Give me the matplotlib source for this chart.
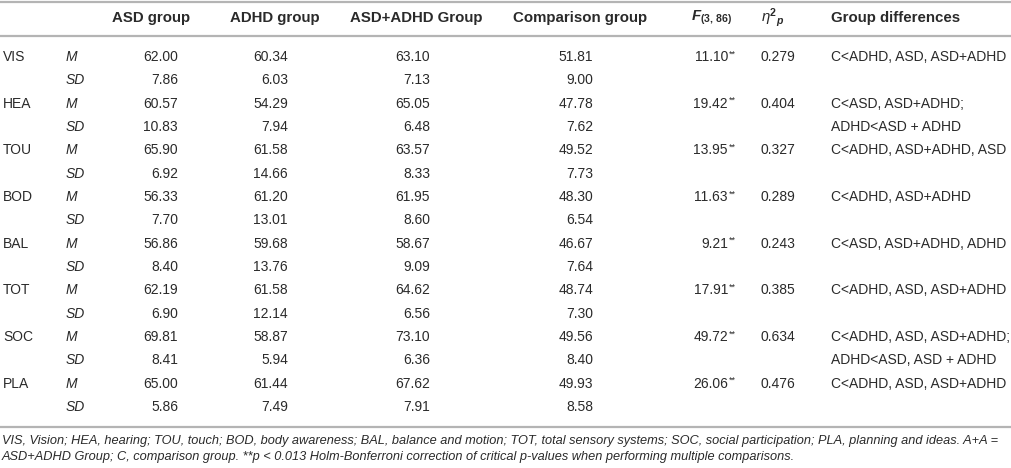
import matplotlib
matplotlib.use('Agg')
import matplotlib.pyplot as plt

plt.rcParams['font.family'] = ['Liberation Sans', 'DejaVu Sans']
plt.rcParams['mathtext.fontset'] = 'custom'
plt.rcParams['mathtext.rm'] = 'Liberation Sans'
plt.rcParams['mathtext.it'] = 'Liberation Sans:italic'
plt.rcParams['mathtext.bf'] = 'Liberation Sans:bold'
plt.rcParams['mathtext.bfit'] = 'Liberation Sans:bold:italic'

# Table data
scales = ['VIS', 'HEA', 'TOU', 'BOD', 'BAL', 'TOT', 'SOC', 'PLA']
asd_m = [62.00, 60.57, 65.90, 56.33, 56.86, 62.19, 69.81, 65.00]
asd_sd = [7.86, 10.83, 6.92, 7.70, 8.40, 6.90, 8.41, 5.86]
adhd_m = [60.34, 54.29, 61.58, 61.20, 59.68, 61.58, 58.87, 61.44]
adhd_sd = [6.03, 7.94, 14.66, 13.01, 13.76, 12.14, 5.94, 7.49]
both_m = [63.10, 65.05, 63.57, 61.95, 58.67, 64.62, 73.10, 67.62]
both_sd = [7.13, 6.48, 8.33, 8.60, 9.09, 6.56, 6.36, 7.91]
comp_m = [51.81, 47.78, 49.52, 48.30, 46.67, 48.74, 49.56, 49.93]
comp_sd = [9.00, 7.62, 7.73, 6.54, 7.64, 7.30, 8.40, 8.58]
f_vals = [11.10, 19.42, 13.95, 11.63, 9.21, 17.91, 49.72, 26.06]
eta_vals = [0.279, 0.404, 0.327, 0.289, 0.243, 0.385, 0.634, 0.476]
group_diff = [
    ['C<ADHD, ASD, ASD+ADHD'],
    ['C<ASD, ASD+ADHD;', 'ADHD<ASD + ADHD'],
    ['C<ADHD, ASD+ADHD, ASD'],
    ['C<ADHD, ASD+ADHD'],
    ['C<ASD, ASD+ADHD, ADHD'],
    ['C<ADHD, ASD, ASD+ADHD'],
    ['C<ADHD, ASD, ASD+ADHD;', 'ADHD<ASD, ASD + ADHD'],
    ['C<ADHD, ASD, ASD+ADHD'],
]
footnote = [
    'VIS, Vision; HEA, hearing; TOU, touch; BOD, body awareness; BAL, balance and motion; '
    'TOT, total sensory systems; SOC, social participation; PLA, planning and ideas. A+A =',
    'ASD+ADHD Group; C, comparison group. **p < 0.013 Holm-Bonferroni correction of '
    'critical p-values when performing multiple comparisons.',
]

TXT = '#2a2a2a'
RULE = '#b4b4b4'
FS = 10
HFS = 10.8

fig = plt.figure(figsize=(10.12, 4.68), dpi=100)
ax = fig.add_axes([0, 0, 1, 1])
ax.set_xlim(0, 1012)
ax.set_ylim(468, 0)
ax.axis('off')

# rules
for y in [1.5, 36, 426.5]:
    ax.plot([0, 1012], [y, y], color=RULE, lw=1.6, solid_capstyle='butt')

# header
hy = 18
ax.text(112, hy, 'ASD group', fontsize=HFS, fontweight='bold', color=TXT, va='center')
ax.text(230, hy, 'ADHD group', fontsize=HFS, fontweight='bold', color=TXT, va='center')
ax.text(350, hy, 'ASD+ADHD Group', fontsize=HFS, fontweight='bold', color=TXT, va='center')
ax.text(513, hy, 'Comparison group', fontsize=HFS, fontweight='bold', color=TXT, va='center')
ax.text(691, hy, r'$\mathbfit{F}_{\mathbf{(3,}\,\mathbf{86)}}$', fontsize=HFS, color=TXT, va='center')
ax.text(761, hy, r'$\mathit{\eta}^{\mathbf{2}}{}_{\mathbfit{p}}$', fontsize=HFS, color=TXT, va='center')
ax.text(831, hy, 'Group differences', fontsize=HFS, fontweight='bold', color=TXT, va='center')

y0 = 57
pitch = 23.33
num_cols = [(178, asd_m, asd_sd), (288, adhd_m, adhd_sd),
            (430, both_m, both_sd), (593, comp_m, comp_sd)]

for i, name in enumerate(scales):
    ym = y0 + 2 * i * pitch
    ys = ym + pitch
    ax.text(3, ym, name, fontsize=FS, color=TXT, va='center')
    ax.text(66, ym, 'M', fontsize=FS, style='italic', color=TXT, va='center')
    ax.text(66, ys, 'SD', fontsize=FS, style='italic', color=TXT, va='center')
    for xr, m, sd in num_cols:
        ax.text(xr, ym, '%.2f' % m[i], fontsize=FS, color=TXT, va='center', ha='right')
        ax.text(xr, ys, '%.2f' % sd[i], fontsize=FS, color=TXT, va='center', ha='right')
    ax.text(728, ym, '%.2f' % f_vals[i], fontsize=FS, color=TXT, va='center', ha='right')
    ax.text(728.5, ym - 3, '**', fontsize=6.5, color=TXT, va='center', ha='left')
    ax.text(761, ym, '%.3f' % eta_vals[i], fontsize=FS, color=TXT, va='center')
    for k, line in enumerate(group_diff[i]):
        ax.text(831, ym + k * pitch, line, fontsize=FS, color=TXT, va='center')

# footnote
for k, line in enumerate(footnote):
    ax.text(2, 441 + k * 16, line, fontsize=9.15, style='italic', color=TXT, va='center')

fig.savefig('out.png', dpi=100)
